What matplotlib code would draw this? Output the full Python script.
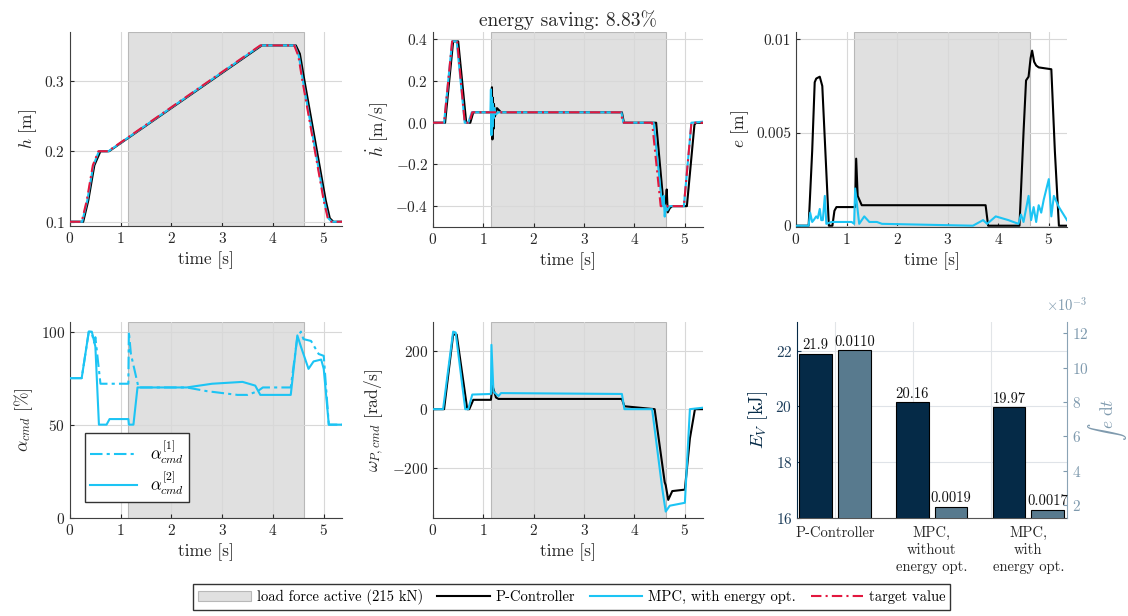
import numpy as np
import matplotlib
matplotlib.use("Agg")
import matplotlib.pyplot as plt
from matplotlib.patches import Patch
from matplotlib.lines import Line2D

plt.rcParams["font.family"] = ["cmr10", "DejaVu Serif"]
plt.rcParams["mathtext.fontset"] = "cm"
plt.rcParams["axes.formatter.use_mathtext"] = True
plt.rcParams["axes.unicode_minus"] = False

# ---- data ----
load_start, load_end = 1.15, 4.62
t_max = 5.36

# h [m]
h_ref_t = [0, 0.23, 0.33, 0.45, 0.56, 0.75, 3.75, 4.42, 4.5, 4.58, 5.0, 5.08, 5.15, 5.36]
h_ref = [0.1, 0.1, 0.13, 0.18, 0.2, 0.2, 0.35, 0.35, 0.335, 0.3, 0.13, 0.105, 0.1, 0.1]
h_p_t = [0, 0.26, 0.36, 0.48, 0.6, 0.77, 3.78, 4.45, 4.53, 4.62, 5.04, 5.12, 5.19, 5.36]
h_p = [0.1, 0.1, 0.13, 0.18, 0.2, 0.2, 0.35, 0.35, 0.338, 0.3, 0.13, 0.105, 0.1, 0.1]
h_mpc_t = [0, 0.24, 0.34, 0.46, 0.57, 0.76, 3.76, 4.43, 4.51, 4.59, 5.01, 5.09, 5.16, 5.36]
h_mpc = [0.1, 0.1, 0.13, 0.18, 0.2, 0.2, 0.35, 0.35, 0.335, 0.3, 0.13, 0.105, 0.1, 0.1]

# dh/dt [m/s]
hd_ref_t = [0, 0.22, 0.38, 0.48, 0.63, 0.72, 0.78, 3.73, 3.77, 4.35, 4.52, 4.98, 5.13, 5.36]
hd_ref = [0, 0, 0.39, 0.39, 0, 0, 0.05, 0.05, 0, 0, -0.4, -0.4, 0, 0]
hd_p_t = [0, 0.24, 0.4, 0.5, 0.66, 0.74, 0.8, 1.16, 1.17, 1.18, 1.19, 1.2, 1.21, 1.23, 1.27,
          1.35, 3.75, 3.79, 4.43, 4.58, 4.62, 4.64, 4.66, 4.7, 4.75, 5.04, 5.19, 5.22, 5.36]
hd_p = [0, 0, 0.39, 0.39, 0, 0, 0.05, 0.05, 0.17, -0.08, 0.12, -0.03, 0.09, 0.03, 0.07,
        0.05, 0.05, 0, 0, -0.4, -0.38, -0.32, -0.43, -0.41, -0.4, -0.4, -0.01, 0, 0]
hd_mpc_t = [0, 0.22, 0.38, 0.47, 0.63, 0.7, 0.77, 1.14, 1.15, 1.16, 1.17, 1.18, 1.19, 1.2,
            1.22, 1.25, 1.3, 3.74, 3.78, 4.38, 4.55, 4.58, 4.6, 4.62, 4.65, 4.7, 4.98, 5.13, 5.36]
hd_mpc = [0, 0, 0.39, 0.39, 0, 0, 0.05, 0.05, 0.16, -0.06, 0.12, -0.02, 0.09, 0.02,
          0.07, 0.04, 0.05, 0.05, 0, 0, -0.4, -0.35, -0.45, -0.4, -0.42, -0.4, -0.4, 0, 0.005]

# e [m]
e_p_t = [0, 0.25, 0.32, 0.37, 0.4, 0.47, 0.52, 0.65, 0.72, 0.76, 0.8, 1.17, 1.19, 1.22, 1.3,
         3.75, 3.8, 4.42, 4.5, 4.55, 4.6, 4.64, 4.67, 4.71, 4.75, 4.8, 5.05, 5.12, 5.2, 5.36]
e_p = [0, 0, 0.004, 0.0077, 0.0079, 0.008, 0.0075, 0, 0, 0.0008, 0.001, 0.001, 0.0036,
       0.0016, 0.0011, 0.0011, 0, 0, 0.005, 0.0078, 0.008, 0.009, 0.0094, 0.0088, 0.0086,
       0.0085, 0.0084, 0.004, 0, 0]
e_mpc_t = [0, 0.25, 0.28, 0.32, 0.35, 0.4, 0.43, 0.47, 0.5, 0.53, 0.57, 0.6, 0.7, 1.1, 1.15,
           1.17, 1.25, 1.35, 1.45, 1.6, 1.7, 3.5, 3.7, 3.78, 3.95, 4.2, 4.4, 4.45, 4.5, 4.6,
           4.65, 4.7, 4.75, 4.8, 4.85, 4.9, 5.0, 5.05, 5.1, 5.2, 5.36]
e_mpc = [0, 0, 0.0007, 0.0002, 0.0003, 0.0005, 0.0004, 0.0009, 0.0003, 0.0003, 0.0016, 0.0001,
         0.0002, 0.0002, 0.0001, 0.002, 0.0001, 0.0005, 0.0002, 0.0002, 0.0001, 0.0, 0.0003,
         0.0001, 0.0005, 0.0003, 0.0001, 0.0006, 0.0002, 0.0016, 0.0003, 0.001, 0.0002, 0.0011,
         0.0007, 0.0014, 0.0025, 0.0005, 0.0016, 0.001, 0.0003]

# alpha_cmd [%]
a1_t = [0, 0.23, 0.37, 0.42, 0.48, 0.5, 0.6, 1.15, 1.16, 1.2, 1.35, 2.3, 2.7, 3.3, 3.5, 3.7,
        3.8, 4.35, 4.48, 4.55, 4.6, 4.75, 4.9, 5.0, 5.1, 5.36]
a1 = [75, 75, 100, 100, 94, 97, 72, 72, 100, 88, 70, 70, 68, 66, 66, 68, 70, 70, 97, 100, 96,
      95, 88, 87, 50, 50]
a2_t = [0, 0.23, 0.37, 0.43, 0.5, 0.57, 0.72, 0.78, 1.15, 1.16, 1.25, 1.33, 2.3, 2.8, 3.4,
        3.65, 3.75, 4.35, 4.48, 4.55, 4.6, 4.7, 4.8, 4.95, 5.0, 5.1, 5.36]
a2 = [75, 75, 100, 100, 92, 50, 50, 53, 53, 50, 50, 70, 70, 72, 73, 71, 66, 66, 98, 92, 88,
      80, 84, 85, 80, 50, 50]

# omega_P,cmd [rad/s]
w_p_t = [0, 0.22, 0.4, 0.47, 0.68, 0.72, 0.8, 1.15, 1.18, 1.25, 1.3, 3.75, 3.8, 4.4, 4.6,
         4.62, 4.67, 4.75, 5.0, 5.1, 5.2, 5.36]
w_p = [0, 0, 255, 255, 0, 0, 32, 32, 80, 40, 35, 35, 10, 0, -250, -260, -310, -280, -275,
       -100, 0, 0]
w_mpc_t = [0, 0.2, 0.4, 0.45, 0.64, 0.7, 0.78, 1.15, 1.16, 1.2, 1.3, 1.35, 3.75, 3.8, 4.35,
           4.55, 4.62, 4.7, 5.0, 5.1, 5.36]
w_mpc = [0, 0, 265, 262, 0, 0, 50, 52, 220, 60, 45, 55, 52, 0, 0, -270, -350, -330, -320, 0, 5]

# bar chart
controllers = ["P-Controller", "MPC,\nwithout\nenergy opt.", "MPC,\nwith\nenergy opt."]
energy_kj = [21.9, 20.16, 19.97]
energy_labels = ["21.9", "20.16", "19.97"]
int_error = [0.0110, 0.0019, 0.0017]
int_error_labels = ["0.0110", "0.0019", "0.0017"]
energy_saving = 8.83

# ---- styling ----
c_p = "black"
c_mpc = "#1cc4f4"
c_ref = "#e3173e"
c_shade = "#e0e0e0"
c_dark = "#052a47"
c_steel = "#587a8e"
c_steel_txt = "#7f9aae"
c_txt = "#262626"
tick_fs = 11
label_fs = 12.5
ref_ls = (0, (5, 2, 1, 2))


def style_axis(ax):
    ax.spines["top"].set_visible(False)
    ax.spines["right"].set_visible(False)
    for s in ("left", "bottom"):
        ax.spines[s].set_color("#404040")
    ax.tick_params(direction="in", length=3, labelsize=tick_fs, colors=c_txt)
    ax.grid(True, color="#d8d8d8", lw=0.8)
    ax.set_axisbelow("line")


def time_axis(ax):
    ax.axvspan(load_start, load_end, facecolor=c_shade, edgecolor="#b8b8b8", lw=0.8, zorder=1)
    ax.set_xlim(0, t_max)
    ax.set_xticks([0, 1, 2, 3, 4, 5])
    ax.set_xlabel("time [s]", fontsize=label_fs, color=c_txt)
    style_axis(ax)


fig = plt.figure(figsize=(11.28, 6.16), dpi=100)
W, H = 1128, 616


def rect(x0, x1, y0, y1):
    return [x0 / W, 1 - y1 / H, (x1 - x0) / W, (y1 - y0) / H]


ax_h = fig.add_axes(rect(70, 342, 32, 226))
ax_hd = fig.add_axes(rect(433, 703, 32, 227))
ax_e = fig.add_axes(rect(796, 1067, 32, 227))
ax_a = fig.add_axes(rect(70, 342, 322, 518))
ax_w = fig.add_axes(rect(433, 703, 322, 518))
ax_b = fig.add_axes(rect(797, 1067, 322, 518))

lw = 1.5

# h
time_axis(ax_h)
ax_h.plot(h_p_t, h_p, color=c_p, lw=lw, zorder=3)
ax_h.plot(h_mpc_t, h_mpc, color=c_mpc, lw=lw, zorder=4)
ax_h.plot(h_ref_t, h_ref, color=c_ref, lw=lw, ls=ref_ls, zorder=5)
ax_h.set_ylim(0.094, 0.369)
ax_h.set_yticks([0.1, 0.2, 0.3])
ax_h.set_ylabel(r"$h$ [m]", fontsize=label_fs, color=c_txt)

# dh/dt
time_axis(ax_hd)
ax_hd.plot(hd_p_t, hd_p, color=c_p, lw=lw, zorder=3)
ax_hd.plot(hd_mpc_t, hd_mpc, color=c_mpc, lw=lw, zorder=4)
ax_hd.plot(hd_ref_t, hd_ref, color=c_ref, lw=lw, ls=ref_ls, zorder=5)
ax_hd.set_ylim(-0.5, 0.435)
ax_hd.set_yticks([-0.4, -0.2, 0, 0.2, 0.4])
ax_hd.set_ylabel(r"$\dot{h}$ [m/s]", fontsize=label_fs, color=c_txt)
ax_hd.set_title(f"energy saving: {energy_saving:.2f}%", fontsize=14, color=c_txt, pad=4)

# e
time_axis(ax_e)
ax_e.plot(e_p_t, e_p, color=c_p, lw=lw, zorder=3)
ax_e.plot(e_mpc_t, e_mpc, color=c_mpc, lw=lw, zorder=4)
ax_e.set_ylim(-0.00007, 0.0104)
ax_e.set_yticks([0, 0.005, 0.01])
ax_e.set_yticklabels(["0", "0.005", "0.01"])
ax_e.set_ylabel(r"$e$ [m]", fontsize=label_fs, color=c_txt)

# alpha
time_axis(ax_a)
ax_a.plot(a1_t, a1, color=c_mpc, lw=lw, ls=(0, (6, 2, 1.5, 2)), zorder=4,
          label=r"$\alpha_{cmd}^{[1]}$")
ax_a.plot(a2_t, a2, color=c_mpc, lw=lw, zorder=4, label=r"$\alpha_{cmd}^{[2]}$")
ax_a.set_ylim(-0.2, 105.2)
ax_a.set_yticks([0, 50, 100])
ax_a.set_ylabel(r"$\alpha_{cmd}$ [%]", fontsize=label_fs, color=c_txt)
leg_a = ax_a.legend(loc="lower left", bbox_to_anchor=(0.055, 0.082), borderaxespad=0,
                    fontsize=12, fancybox=False, edgecolor="#333333", framealpha=1,
                    handlelength=2.8, labelspacing=0.2, borderpad=0.3)
leg_a.get_frame().set_linewidth(1.0)

# omega
time_axis(ax_w)
ax_w.plot(w_p_t, w_p, color=c_p, lw=lw, zorder=3)
ax_w.plot(w_mpc_t, w_mpc, color=c_mpc, lw=lw, zorder=4)
ax_w.set_ylim(-372, 298)
ax_w.set_yticks([-200, 0, 200])
ax_w.set_ylabel(r"$\omega_{P,cmd}$ [rad/s]", fontsize=label_fs, color=c_txt)

# bars
x = np.arange(1, len(controllers) + 1)
bw = 0.34
ax_b.bar(x - 0.2, energy_kj, width=bw, color=c_dark, edgecolor="black", lw=0.8, zorder=3)
for xi, v, s in zip(x, energy_kj, energy_labels):
    ax_b.text(xi - 0.2, v + 0.05, s, ha="center", va="bottom", fontsize=10.5, color="#111111")
ax_b.set_ylim(16, 23.03)
ax_b.set_yticks([16, 18, 20, 22])
ax_b.set_xlim(0.606, 3.40)
ax_b.set_xticks(x)
ax_b.set_xticklabels(controllers, fontsize=10.5, color=c_txt, linespacing=1.3)
ax_b.set_ylabel(r"$E_V$ [kJ]", fontsize=label_fs + 1, color=c_dark)
ax_b.spines["top"].set_visible(False)
ax_b.spines["right"].set_visible(False)
ax_b.spines["left"].set_color(c_dark)
ax_b.spines["bottom"].set_color("#555555")
ax_b.tick_params(axis="y", direction="in", length=3, labelsize=tick_fs, colors="#1f3f5c")
ax_b.tick_params(axis="x", length=0, pad=6)
ax_b.grid(True, axis="y", color="#dfe3e8", lw=0.8)
ax_b.set_axisbelow(True)
for gx in (1.0, 1.81, 2.61):
    ax_b.axvline(gx, color="#e2e5e8", lw=0.8, zorder=0)

ax_b2 = ax_b.twinx()
ax_b2.bar(x + 0.2, np.array(int_error) * 1e3, width=bw, color=c_steel, edgecolor="black",
          lw=0.8, zorder=3)
for xi, v, s in zip(x, int_error, int_error_labels):
    ax_b2.text(xi + 0.2, v * 1e3 + 0.1, s, ha="center", va="bottom", fontsize=10.5,
               color="#111111")
ax_b2.set_ylim(1.243, 12.66)
ax_b2.set_yticks([2, 4, 6, 8, 10, 12])
ax_b2.spines["top"].set_visible(False)
ax_b2.spines["left"].set_visible(False)
ax_b2.spines["bottom"].set_visible(False)
ax_b2.spines["right"].set_color("#8aa3b5")
ax_b2.tick_params(axis="y", direction="in", length=3, labelsize=tick_fs, colors=c_steel_txt)
ax_b2.set_ylabel(r"$\int\, e\ \mathrm{d}t$", fontsize=label_fs, color=c_steel_txt,
                 rotation=90, va="center")
ax_b2.yaxis.set_label_coords(1.15, 0.5)
ax_b2.text(1.0, 1.04, r"$\times 10^{-3}$", transform=ax_b2.transAxes, ha="center",
           va="bottom", fontsize=10.5, color=c_steel_txt)

# bottom legend
handles = [
    Patch(facecolor=c_shade, edgecolor="#b8b8b8", lw=0.8),
    Line2D([], [], color=c_p, lw=lw),
    Line2D([], [], color=c_mpc, lw=lw),
    Line2D([], [], color=c_ref, lw=lw, ls=ref_ls),
]
labels = ["load force active (215 kN)", "P-Controller", "MPC, with energy opt.",
          "target value"]
leg = fig.legend(handles, labels, loc="center", bbox_to_anchor=(0.507, 0.031), ncol=4,
                 fontsize=10.5, fancybox=False, edgecolor="#333333", framealpha=1,
                 handlelength=3.6, columnspacing=1.0, handletextpad=0.4, borderpad=0.35)
leg.get_frame().set_linewidth(1.0)

fig.savefig("out.png", dpi=100)
